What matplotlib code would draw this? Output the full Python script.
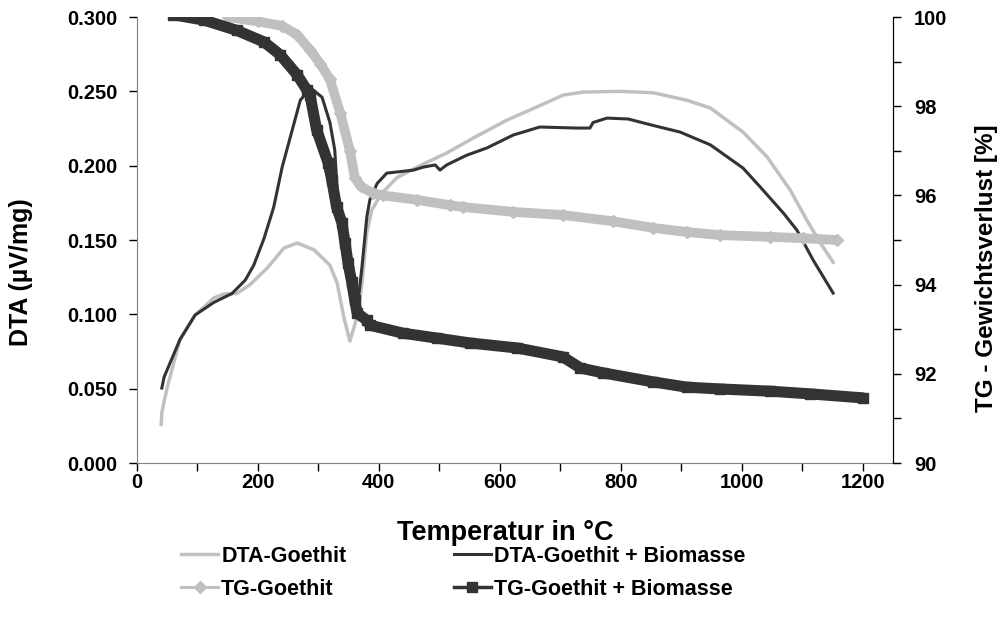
import numpy as np
import matplotlib.pyplot as plt
from matplotlib.ticker import MultipleLocator

plt.rcParams['font.family'] = ['Liberation Sans', 'DejaVu Sans']
plt.rcParams['font.weight'] = 'bold'

# DTA-Goethit (left axis)
t_dta_g = [40, 41, 50, 71, 96, 127, 144, 165, 187, 215, 243, 265, 293, 319, 331, 342, 352,
           358, 365, 372, 380, 388, 398, 410, 430, 468, 512, 556, 612, 661, 705, 738, 799,
           854, 909, 948, 1002, 1042, 1080, 1108, 1130, 1151]
dta_g = [0.026, 0.034, 0.051, 0.083, 0.0995, 0.111, 0.1137, 0.114, 0.120, 0.131, 0.1446,
         0.148, 0.1433, 0.133, 0.121, 0.098, 0.082, 0.090, 0.100, 0.121, 0.155, 0.170,
         0.177, 0.1836, 0.192, 0.200, 0.2085, 0.2186, 0.2307, 0.2395, 0.2475, 0.2495, 0.250,
         0.249, 0.244, 0.2388, 0.2226, 0.2058, 0.1836, 0.163, 0.148, 0.135]

# DTA-Goethit + Biomasse (left axis)
t_dta_gb = [41, 45, 71, 96, 127, 157, 179, 193, 210, 226, 240, 270, 281, 288, 306, 319,
            327, 333, 339, 349, 355, 360, 364, 372, 380, 385, 397, 413, 435, 457, 473, 493,
            501, 512, 545, 579, 622, 666, 727, 749, 754, 777, 812, 854, 898, 948, 1002,
            1035, 1069, 1091, 1118, 1151]
dta_gb = [0.0504, 0.058, 0.083, 0.0995, 0.108, 0.114, 0.123, 0.133, 0.151, 0.172, 0.199,
          0.244, 0.2495, 0.252, 0.246, 0.229, 0.2105, 0.170, 0.160, 0.1345, 0.122, 0.110,
          0.103, 0.132, 0.1655, 0.177, 0.188, 0.195, 0.196, 0.197, 0.199, 0.2005, 0.197,
          0.2005, 0.207, 0.212, 0.2206, 0.226, 0.2253, 0.2253, 0.229, 0.232, 0.2314, 0.227,
          0.2226, 0.214, 0.1984, 0.1836, 0.168, 0.1567, 0.1365, 0.1143]

# TG-Goethit (right axis)
t_tg_g = [150, 200, 240, 265, 286, 303, 319, 336, 352, 360, 370, 390, 407, 463, 518, 539,
          622, 704, 787, 854, 909, 964, 1047, 1102, 1157]
tg_g = [100.0, 99.9, 99.8, 99.6, 99.26, 98.95, 98.6, 97.85, 97.0, 96.4, 96.2, 96.05, 96.0,
        95.9, 95.78, 95.74, 95.63, 95.56, 95.42, 95.27, 95.18, 95.11, 95.07, 95.04, 95.0]

# TG-Goethit + Biomasse (right axis)
t_tg_gb = [60, 111, 165, 210, 237, 265, 281, 286, 297, 316, 322, 330, 339, 344, 349, 355,
           360, 364, 380, 385, 440, 496, 551, 628, 704, 733, 771, 853, 909, 964, 1047,
           1113, 1200]
tg_gb = [100.05, 99.93, 99.7, 99.44, 99.15, 98.7, 98.36, 98.25, 97.47, 96.73, 96.35, 95.74,
         95.38, 94.93, 94.48, 94.06, 93.65, 93.36, 93.2, 93.09, 92.91, 92.8, 92.69, 92.58,
         92.38, 92.13, 92.02, 91.82, 91.7, 91.66, 91.61, 91.55, 91.46]

light = '#c0c0c0'
dark = '#333333'

fig = plt.figure(figsize=(10, 6.32), dpi=100)
ax = fig.add_axes([0.137, 0.2674, 0.756, 0.7057])
ax2 = ax.twinx()

l1, = ax.plot(t_dta_g, dta_g, color=light, lw=2.5, label='DTA-Goethit')
l2, = ax.plot(t_dta_gb, dta_gb, color=dark, lw=2.2, label='DTA-Goethit + Biomasse')

# thick band from dense markers in original
ax2.plot(t_tg_g, tg_g, color=light, lw=7, solid_capstyle='round')
l3, = ax2.plot(t_tg_g, tg_g, color=light, lw=2.2, marker='D', ms=6, mec=light,
               label='TG-Goethit')
ax2.plot(t_tg_gb, tg_gb, color=dark, lw=8, solid_capstyle='round')
l4, = ax2.plot(t_tg_gb, tg_gb, color=dark, lw=2.5, marker='s', ms=7, mec=dark,
               label='TG-Goethit + Biomasse')

ax.set_xlim(0, 1250)
ax.set_ylim(0, 0.3)
ax2.set_ylim(90, 100)

ax.set_xticks(np.arange(0, 1201, 200))
ax.xaxis.set_minor_locator(MultipleLocator(100))
ax.set_yticks(np.arange(0, 0.301, 0.05))
ax.set_yticklabels([f'{v:.3f}' for v in np.arange(0, 0.301, 0.05)])
ax2.set_yticks(np.arange(90, 101, 2))
ax2.yaxis.set_minor_locator(MultipleLocator(1))

for a in (ax, ax2):
    a.tick_params(which='both', direction='out', length=6, width=1, colors='black',
                  labelsize=14.5)
    a.spines['top'].set_visible(False)
ax.tick_params(axis='y', pad=8)
ax.tick_params(axis='x', pad=1)
ax2.tick_params(axis='y', pad=9)
ax.spines['left'].set_color('#808080')
ax.spines['bottom'].set_color('#808080')
ax2.spines['left'].set_visible(False)
ax2.spines['bottom'].set_visible(False)
ax2.spines['right'].set_color('black')

ax.set_xlabel('Temperatur in °C', fontsize=19.5, fontweight='bold')
ax.xaxis.set_label_coords(0.487, -0.128)
ax.set_ylabel('DTA (µV/mg)', fontsize=18, fontweight='bold')
ax.yaxis.set_label_coords(-0.1376, 0.428)
ax2.set_ylabel('TG - Gewichtsverlust [%]', fontsize=17.5, fontweight='bold')
ax2.yaxis.set_label_coords(1.109, 0.437)

fig.legend(handles=[l1, l3, l2, l4], loc='upper left', bbox_to_anchor=(0.162, 0.167),
           ncol=2, frameon=False, fontsize=15.5, handlelength=1.7, handletextpad=0.15,
           columnspacing=5.0, labelspacing=0.55)

fig.savefig('out.png', dpi=100)
